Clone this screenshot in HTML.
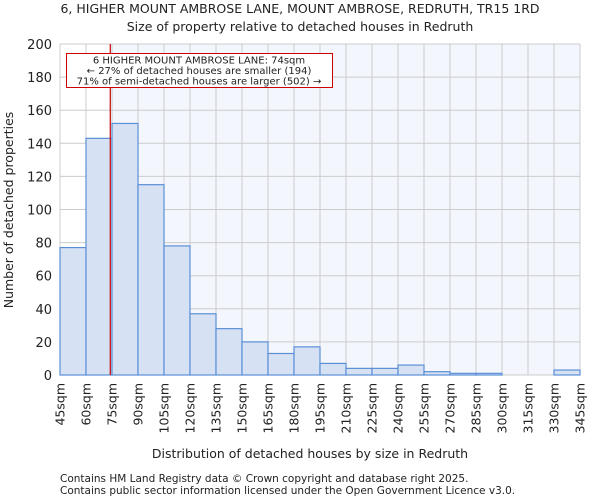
<!DOCTYPE html>
<html><head><meta charset="utf-8"><style>
body{margin:0;background:#fff;font-family:"DejaVu Sans","Liberation Sans",sans-serif;}
svg text{font-family:"DejaVu Sans","Liberation Sans",sans-serif;fill:#222;}
</style></head><body>
<svg id="c" width="600" height="500" viewBox="0 0 600 500" xmlns="http://www.w3.org/2000/svg">
<text x="300" y="13" text-anchor="middle" font-size="12.5">6, HIGHER MOUNT AMBROSE LANE, MOUNT AMBROSE, REDRUTH, TR15 1RD</text>
<text x="300" y="31" text-anchor="middle" font-size="12.5">Size of property relative to detached houses in Redruth</text>
<g id="plot"></g>
<text x="310" y="458" text-anchor="middle" font-size="12.5">Distribution of detached houses by size in Redruth</text>
<text transform="translate(13,210) rotate(-90)" text-anchor="middle" font-size="12.5">Number of detached properties</text>
<text x="60" y="482" font-size="10.5">Contains HM Land Registry data © Crown copyright and database right 2025.</text>
<text x="60" y="494" font-size="10.5">Contains public sector information licensed under the Open Government Licence v3.0.</text>
</svg>
<script>
const binStarts=[45,60,75,90,105,120,135,150,165,180,195,210,225,240,255,270,285,300,315,330];
const counts=[77,143,152,115,78,37,28,20,13,17,7,4,4,6,2,1,1,0,0,3];
const xTicks=[45,60,75,90,105,120,135,150,165,180,195,210,225,240,255,270,285,300,315,330,345];
const yTicks=[0,20,40,60,80,100,120,140,160,180,200];
const marker=74;
const NS="http://www.w3.org/2000/svg";
const X0=60,X1=580,Y0=375,Y1=44;
const xs=v=>X0+(v-45)/(345-45)*(X1-X0);
const ys=v=>Y0-v/200*(Y0-Y1);
const g=document.getElementById('plot');
function mk(t,a){const e=document.createElementNS(NS,t);for(const k in a)e.setAttribute(k,a[k]);g.appendChild(e);return e;}
let bg=mk('rect',{x:xs(marker),y:Y1,width:X1-xs(marker),height:Y0-Y1,fill:'#f3f6fd'});


xTicks.forEach(t=>{const l=mk('line',{x1:xs(t),x2:xs(t),y1:Y1,y2:Y0,stroke:'#cccccc','stroke-width':1});


const tx=mk('text',{transform:`translate(${xs(t)+4.5},${Y0+8}) rotate(-90)`,'text-anchor':'end','font-size':'12.5'});tx.textContent=t+'sqm';

});
yTicks.forEach(t=>{const l=mk('line',{x1:X0,x2:X1,y1:ys(t),y2:ys(t),stroke:'#cccccc','stroke-width':1});


const tx=mk('text',{x:X0-8,y:ys(t)+5,'text-anchor':'end','font-size':'13'});tx.textContent=t;

});
binStarts.forEach((b,i)=>{const r=mk('rect',{x:xs(b),y:ys(counts[i]),width:xs(b+15)-xs(b),height:Y0-ys(counts[i]),fill:'#d6e1f3',stroke:'#5b8fd6','stroke-width':1.2});

});
const ml=mk('line',{x1:xs(marker),x2:xs(marker),y1:Y1,y2:Y0,stroke:'#cc0000','stroke-width':1.2});


const box=mk('rect',{x:66.5,y:53.5,width:266,height:34,fill:'#fff',stroke:'#cc0000','stroke-width':1});


["6 HIGHER MOUNT AMBROSE LANE: 74sqm","← 27% of detached houses are smaller (194)","71% of semi-detached houses are larger (502) →"].forEach((s,i)=>{
const t=mk('text',{x:199,y:63.5+i*10.5,'text-anchor':'middle','font-size':'10'});t.textContent=s;

});
</script>
</body></html>
